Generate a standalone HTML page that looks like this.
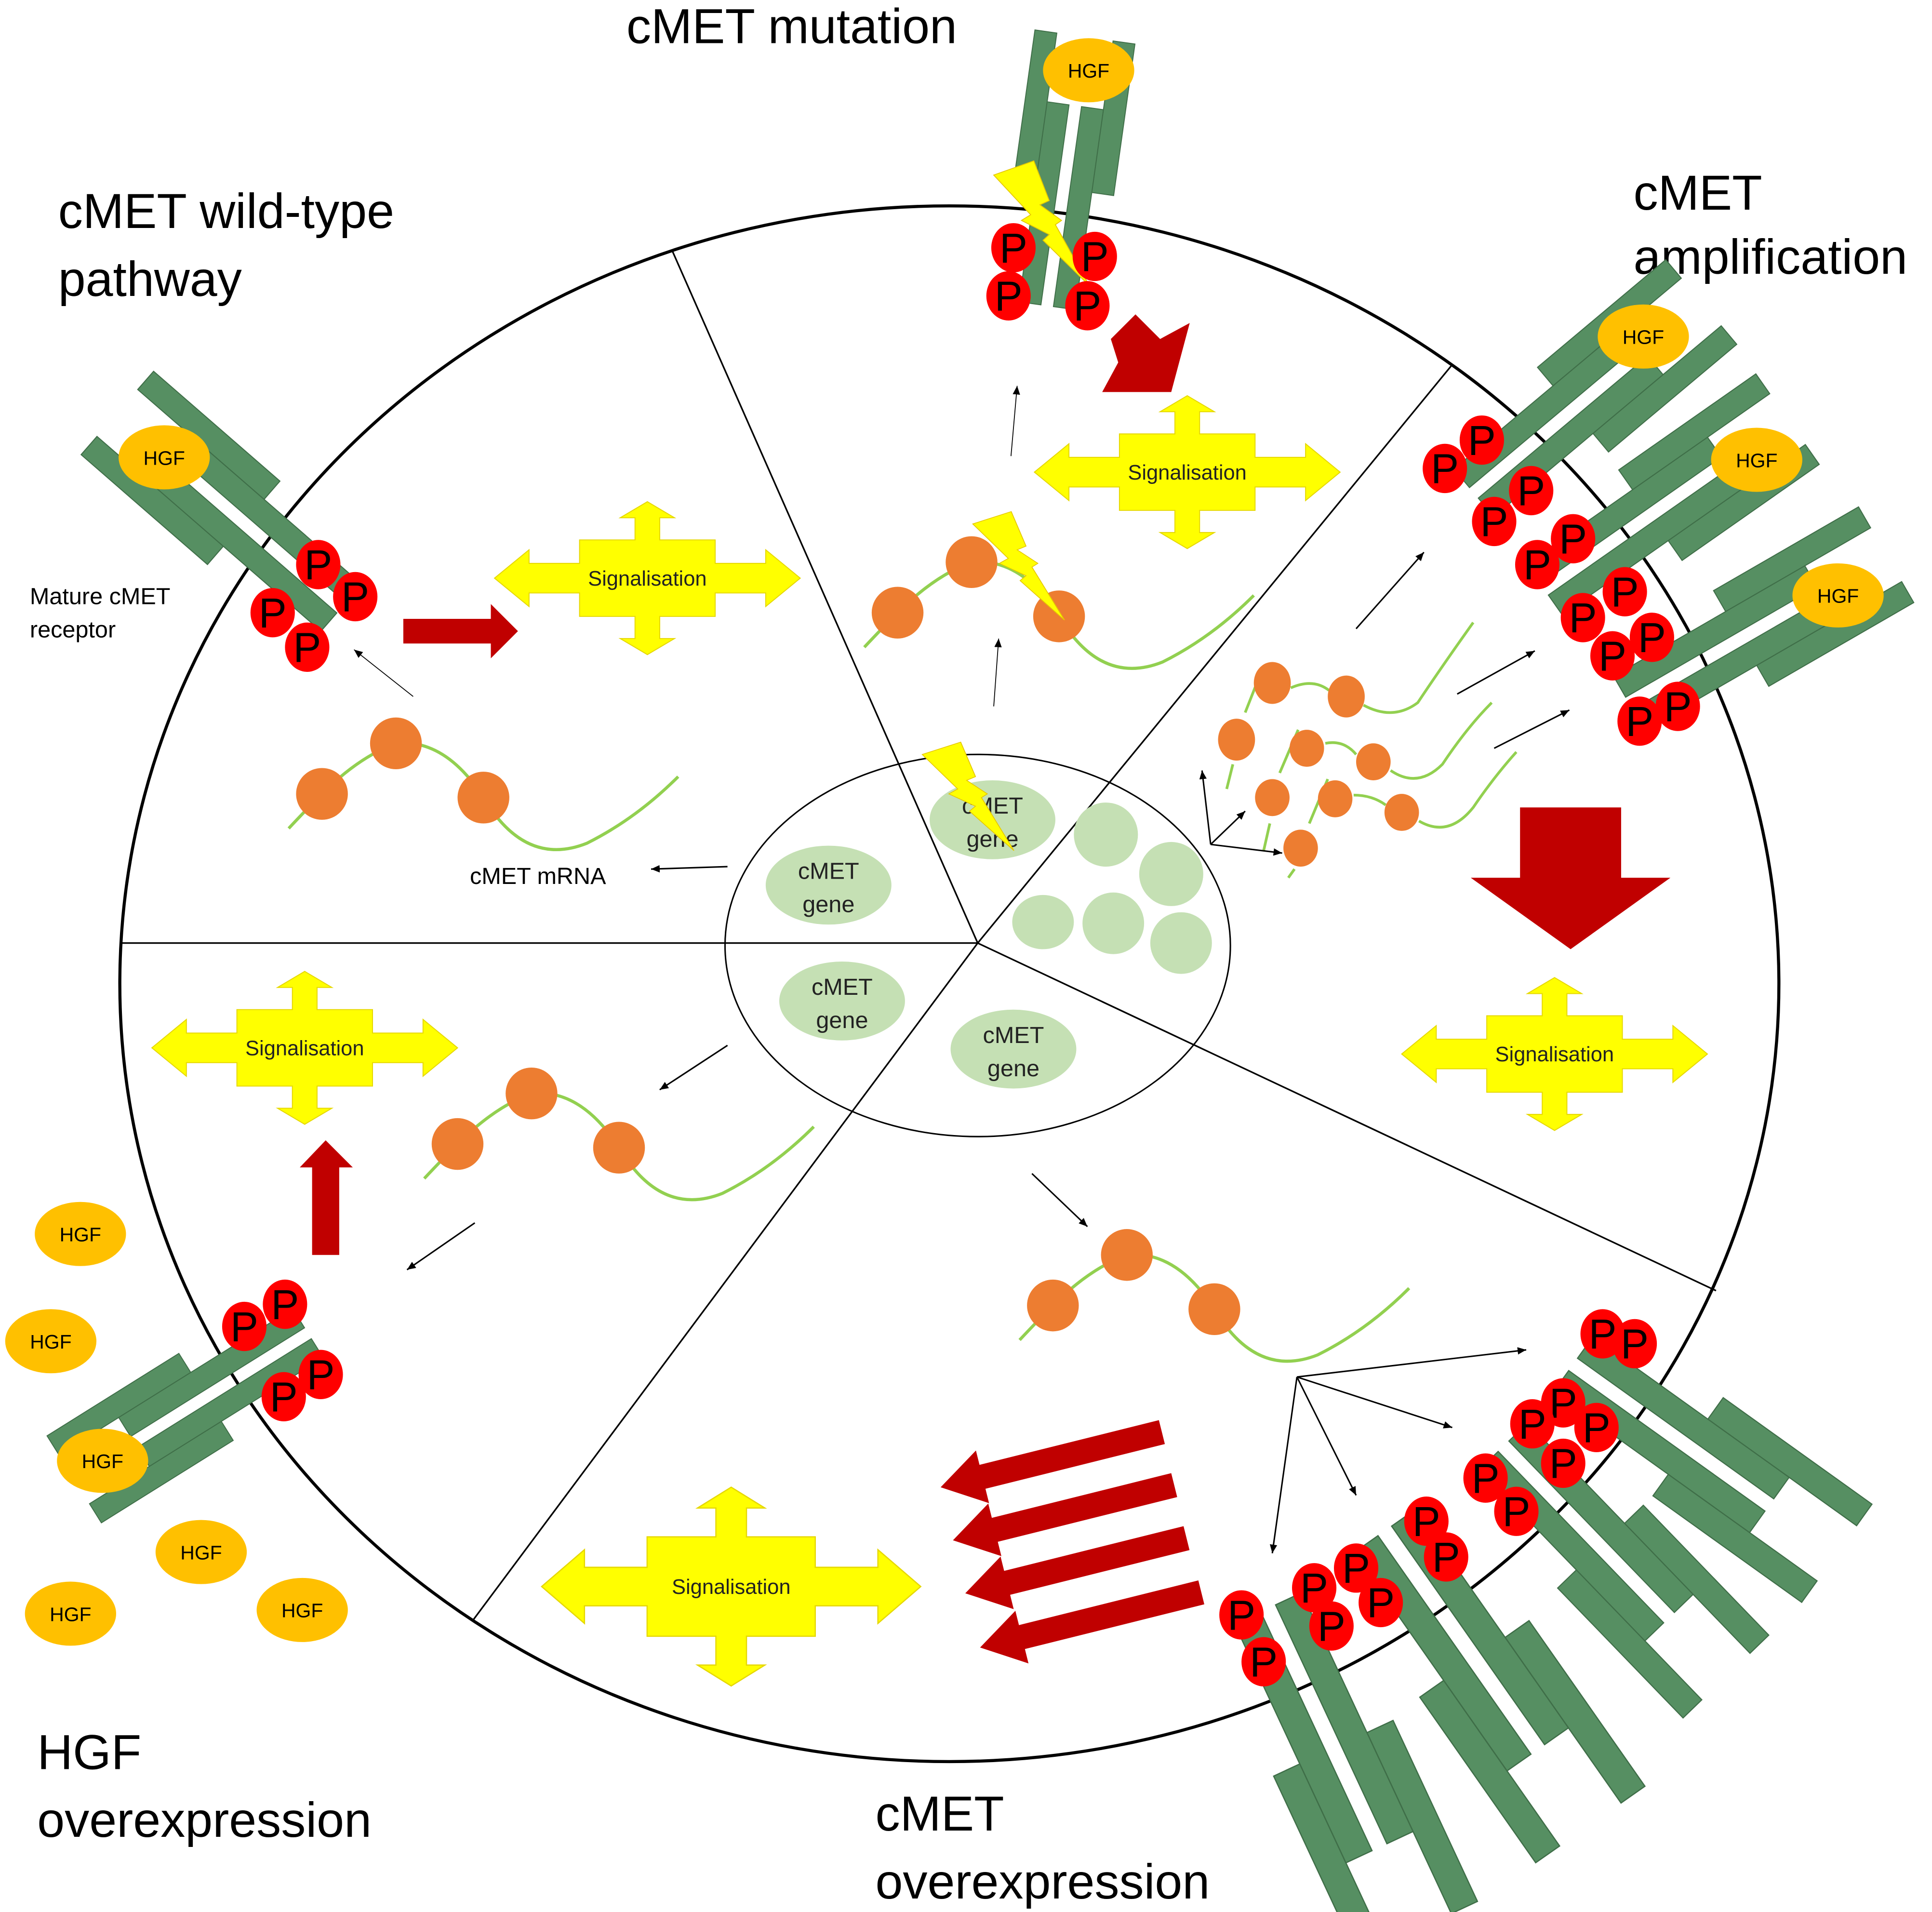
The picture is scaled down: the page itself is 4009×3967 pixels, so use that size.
<!DOCTYPE html>
<html><head><meta charset="utf-8"><style>
html,body{margin:0;padding:0;background:#fff;}
svg{display:block;}
text{font-family:"Liberation Sans",sans-serif;}
</style></head><body>
<svg width="4009" height="3967" viewBox="0 0 1567 1551" xmlns="http://www.w3.org/2000/svg">
<defs>
<g id="rec">
<rect x="-32" y="0" width="14" height="97" fill="#568f62" stroke="#3f6e48" stroke-width="0.6"/>
<rect x="18" y="0" width="14" height="97" fill="#568f62" stroke="#3f6e48" stroke-width="0.6"/>
<rect x="-18" y="44" width="14" height="128" fill="#568f62" stroke="#3f6e48" stroke-width="0.6"/>
<rect x="4" y="44" width="14" height="128" fill="#568f62" stroke="#3f6e48" stroke-width="0.6"/>
</g>
<path id="sig" d="M-124,0 L-96,-23 L-96,-12 L-55,-12 L-55,-31 L-10,-31 L-10,-49 L-22,-49 L0,-62 L22,-49 L10,-49 L10,-31 L55,-31 L55,-12 L96,-12 L96,-23 L124,0 L96,23 L96,12 L55,12 L55,31 L10,31 L10,49 L22,49 L0,62 L-22,49 L-10,49 L-10,31 L-55,31 L-55,12 L-96,12 L-96,23 Z" fill="#ffff00" stroke="#e6d800" stroke-width="0.8"/>
<g id="mrna">
<path d="M-27,28 Q-12,12 0,0 Q30,-30 60,-41 Q100,-45 131,3 Q165,60 215,40 Q255,20 289,-14" fill="none" stroke="#92d050" stroke-width="2.5"/>
<circle cx="0" cy="0" r="21" fill="#ed7d31"/>
<circle cx="60" cy="-41" r="21" fill="#ed7d31"/>
<circle cx="131" cy="3" r="21" fill="#ed7d31"/>
</g>
<g id="P"><ellipse cx="0" cy="0" rx="18" ry="20" fill="#ff0000"/><text x="0" y="12" font-size="34" text-anchor="middle" fill="#000">P</text></g>
<g id="hgf"><ellipse cx="0" cy="0" rx="37" ry="26" fill="#ffc000"/><text x="0" y="6" font-size="16" text-anchor="middle" fill="#000">HGF</text></g>
<path id="bolt" d="M0,0 L26,-10 L36,18 L30,21 L44,32 L40,35 L62,78 L32,46 L36,42 L18,32 L24,28 Z" fill="#ffff00" stroke="#e6c800" stroke-width="0.6"/>
<marker id="ah" markerWidth="8" markerHeight="8" refX="7" refY="4" orient="auto" markerUnits="userSpaceOnUse"><path d="M0,1 L7,4 L0,7 Z" fill="#000"/></marker>
</defs>

<!-- main circle -->
<ellipse cx="770" cy="798" rx="673" ry="631" fill="none" stroke="#000" stroke-width="2.5"/>
<g stroke="#000" stroke-width="1.3">
<line x1="793" y1="765" x2="545" y2="203"/>
<line x1="793" y1="765" x2="1177" y2="297"/>
<line x1="793" y1="765" x2="1392" y2="1047"/>
<line x1="793" y1="765" x2="383" y2="1315"/>
<line x1="793" y1="765" x2="97" y2="765"/>
</g>
<ellipse cx="793" cy="767" rx="205" ry="155" fill="none" stroke="#000" stroke-width="1.2"/>

<!-- genes -->
<g fill="#c5e0b4">
<ellipse cx="672" cy="718" rx="51" ry="32"/>
<ellipse cx="683" cy="812" rx="51" ry="32"/>
<ellipse cx="822" cy="851" rx="51" ry="32"/>
<ellipse cx="805" cy="665" rx="51" ry="32"/>
<circle cx="897" cy="677" r="26"/>
<circle cx="950" cy="709" r="26"/>
<circle cx="903" cy="749" r="25"/>
<ellipse cx="846" cy="748" rx="25" ry="22"/>
<circle cx="958" cy="765" r="25"/>
</g>
<g font-size="19" text-anchor="middle" fill="#222">
<text x="672" y="713">cMET</text><text x="672" y="740">gene</text>
<text x="683" y="807">cMET</text><text x="683" y="834">gene</text>
<text x="822" y="846">cMET</text><text x="822" y="873">gene</text>
<text x="805" y="660">cMET</text><text x="805" y="687">gene</text>
</g>
<use href="#bolt" transform="translate(748,612) scale(1.2,1.0)"/>

<!-- titles -->
<g font-size="40" fill="#000">
<text x="508" y="35">cMET mutation</text>
<text x="47" y="185">cMET wild-type</text>
<text x="47" y="240">pathway</text>
<text x="1325" y="170">cMET</text>
<text x="1325" y="222">amplification</text>
<text x="30" y="1435">HGF</text>
<text x="30" y="1490">overexpression</text>
<text x="710" y="1485">cMET</text>
<text x="710" y="1540">overexpression</text>
</g>
<g font-size="19" fill="#000">
<text x="24" y="490">Mature cMET</text>
<text x="24" y="517">receptor</text>
<text x="381" y="717">cMET mRNA</text>
</g>

<!-- signalisation -->
<g font-size="17" text-anchor="middle" fill="#222">
<use href="#sig" transform="translate(525,469)"/><text x="525" y="475">Signalisation</text>
<use href="#sig" transform="translate(963,383)"/><text x="963" y="389">Signalisation</text>
<use href="#sig" transform="translate(1261,855)"/><text x="1261" y="861">Signalisation</text>
<use href="#sig" transform="translate(247,850)"/><text x="247" y="856">Signalisation</text>
<use href="#sig" transform="translate(593,1287) scale(1.24,1.3)"/><text x="593" y="1293">Signalisation</text>
</g>

<!-- mRNAs -->
<use href="#mrna" transform="translate(261,644)"/>
<use href="#mrna" transform="translate(728,497)"/>
<use href="#mrna" transform="translate(371,928)"/>
<use href="#mrna" transform="translate(854,1059)"/>
<g fill="none" stroke="#92d050" stroke-width="2.2">
<path d="M995,640 L1000,620 M1010,578 L1025,540 M1047,558 Q1065,550 1078,560 M1106,572 Q1130,585 1150,570 Q1170,540 1195,505"/>
<path d="M1025,690 L1030,668 M1038,627 L1053,592 M1075,603 Q1090,600 1100,612 M1128,625 Q1150,640 1170,620 Q1190,590 1210,570"/>
<path d="M1045,712 L1050,705 M1062,668 L1077,632 M1098,645 Q1113,645 1124,653 M1151,666 Q1175,680 1195,655 Q1212,630 1230,610"/>
</g>
<g fill="#ed7d31">
<ellipse cx="1032" cy="554" rx="15" ry="17"/><ellipse cx="1092" cy="565" rx="15" ry="17"/><ellipse cx="1003" cy="600" rx="15" ry="17"/>
<ellipse cx="1060" cy="607" rx="14" ry="15"/><ellipse cx="1114" cy="618" rx="14" ry="15"/>
<ellipse cx="1032" cy="647" rx="14" ry="15"/><ellipse cx="1083" cy="648" rx="14" ry="15"/><ellipse cx="1137" cy="659" rx="14" ry="15"/>
<ellipse cx="1055" cy="688" rx="14" ry="15"/>
</g>

<!-- thin arrows -->
<g stroke="#000" stroke-width="1.2" marker-end="url(#ah)">
<line x1="590" y1="703" x2="528" y2="705"/>
<line x1="335" y1="565" x2="287" y2="527" stroke-width="0.7"/>
<line x1="806" y1="573" x2="810" y2="518" stroke-width="0.7"/>
<line x1="820" y1="370" x2="825" y2="313" stroke-width="0.7"/>
<line x1="590" y1="848" x2="535" y2="884"/>
<line x1="385" y1="992" x2="330" y2="1030"/>
<line x1="837" y1="952" x2="882" y2="995"/>
<line x1="982" y1="685" x2="975" y2="625"/>
<line x1="982" y1="685" x2="1010" y2="658"/>
<line x1="982" y1="685" x2="1040" y2="692"/>
<line x1="1100" y1="510" x2="1155" y2="448"/>
<line x1="1182" y1="563" x2="1245" y2="528"/>
<line x1="1212" y1="607" x2="1273" y2="576"/>
<line x1="1052" y1="1117" x2="1238" y2="1095"/>
<line x1="1052" y1="1117" x2="1178" y2="1158"/>
<line x1="1052" y1="1117" x2="1100" y2="1213"/>
<line x1="1052" y1="1117" x2="1032" y2="1260"/>
</g>

<!-- red arrows -->
<g fill="#c00000">
<polygon points="327,502 398,502 398,490 420,512 398,534 398,522 327,522"/>
<polygon points="1233,655 1315,655 1315,712 1355,712 1274,770 1193,712 1233,712"/>
<polygon points="253,1018 253,947 243,947 264,925 286,947 275,947 275,1018"/>
<polygon points="921,255 941,275 965,262 950,318 894,318 907,294 901,275" />
<g transform="translate(940,1152) rotate(-14)"><polygon points="0,0 -150,0 -150,-12 -185,10 -150,32 -150,20 0,20"/></g>
<g transform="translate(950,1195) rotate(-14)"><polygon points="0,0 -150,0 -150,-12 -185,10 -150,32 -150,20 0,20"/></g>
<g transform="translate(960,1238) rotate(-14)"><polygon points="0,0 -150,0 -150,-12 -185,10 -150,32 -150,20 0,20"/></g>
<g transform="translate(972,1282) rotate(-14)"><polygon points="0,0 -150,0 -150,-12 -185,10 -150,32 -150,20 0,20"/></g>
</g>

<!-- receptors -->
<use href="#rec" transform="translate(880,30) rotate(8) scale(1.28)"/>
<use href="#rec" transform="translate(95,335) rotate(-49) scale(1.4)"/>
<use href="#rec" transform="translate(1380,245) rotate(50) scale(1.4)"/>
<use href="#rec" transform="translate(1450,340) rotate(55) scale(1.4)"/>
<use href="#rec" transform="translate(1530,450) rotate(60) scale(1.4)"/>
<use href="#rec" transform="translate(60,1200) rotate(-122) scale(1.3)"/>
<use href="#rec" transform="translate(1490,1260) rotate(125.6) scale(1.53)"/>
<use href="#rec" transform="translate(1400,1360) rotate(136) scale(1.51)"/>
<use href="#rec" transform="translate(1290,1480) rotate(145) scale(1.69)"/>
<use href="#rec" transform="translate(1150,1565) rotate(155) scale(1.67)"/>

<!-- HGF -->
<use href="#hgf" transform="translate(883,57)"/>
<use href="#hgf" transform="translate(133,371)"/>
<use href="#hgf" transform="translate(1333,273)"/>
<use href="#hgf" transform="translate(1425,373)"/>
<use href="#hgf" transform="translate(1491,483)"/>
<use href="#hgf" transform="translate(65,1001)"/>
<use href="#hgf" transform="translate(41,1088)"/>
<use href="#hgf" transform="translate(83,1185)"/>
<use href="#hgf" transform="translate(163,1259)"/>
<use href="#hgf" transform="translate(57,1309)"/>
<use href="#hgf" transform="translate(245,1306)"/>

<!-- bolts -->
<use href="#bolt" transform="translate(806,142) scale(1.25,1.15)"/>
<use href="#bolt" transform="translate(789,425) scale(1.2,1.0)"/>

<!-- P -->
<g>
<use href="#P" x="822" y="201"/><use href="#P" x="888" y="208"/><use href="#P" x="818" y="240"/><use href="#P" x="882" y="248"/>
<use href="#P" x="258" y="458"/><use href="#P" x="288" y="484"/><use href="#P" x="221" y="497"/><use href="#P" x="249" y="525"/>
<use href="#P" x="1202" y="357"/><use href="#P" x="1172" y="380"/><use href="#P" x="1242" y="398"/><use href="#P" x="1212" y="423"/>
<use href="#P" x="1276" y="437"/><use href="#P" x="1247" y="458"/><use href="#P" x="1318" y="480"/><use href="#P" x="1284" y="501"/>
<use href="#P" x="1340" y="517"/><use href="#P" x="1308" y="532"/><use href="#P" x="1361" y="573"/><use href="#P" x="1330" y="585"/>
<use href="#P" x="231" y="1058"/><use href="#P" x="198" y="1076"/><use href="#P" x="260" y="1115"/><use href="#P" x="230" y="1133"/>
<use href="#P" x="1300" y="1082"/><use href="#P" x="1326" y="1090"/>
<use href="#P" x="1268" y="1138"/><use href="#P" x="1243" y="1155"/><use href="#P" x="1295" y="1158"/><use href="#P" x="1268" y="1187"/>
<use href="#P" x="1205" y="1199"/><use href="#P" x="1230" y="1226"/>
<use href="#P" x="1157" y="1234"/><use href="#P" x="1173" y="1263"/>
<use href="#P" x="1100" y="1272"/><use href="#P" x="1066" y="1288"/><use href="#P" x="1120" y="1300"/><use href="#P" x="1080" y="1319"/>
<use href="#P" x="1007" y="1310"/><use href="#P" x="1025" y="1348"/>
</g>
</svg>
</body></html>
